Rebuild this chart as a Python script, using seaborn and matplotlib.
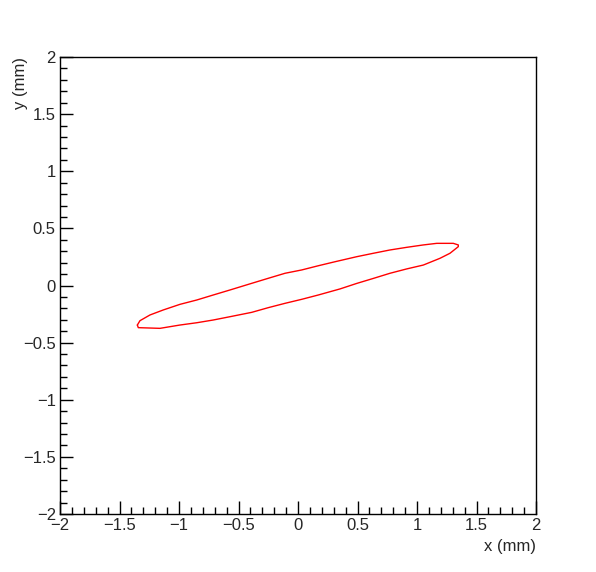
import numpy as np
import matplotlib
matplotlib.use("Agg")
import matplotlib.pyplot as plt
import seaborn as sns
from matplotlib.ticker import MultipleLocator

# contour points (mm), going round the ellipse
x_mm = [-1.350, -1.328, -1.244, -1.132, -0.992, -0.851, -0.712, -0.571, -0.389,
        -0.250, -0.109, 0.031, 0.171, 0.311, 0.493, 0.633, 0.773, 0.913, 1.053,
        1.166, 1.305, 1.347,
        1.347, 1.277, 1.193, 1.053, 0.913, 0.773, 0.633, 0.493, 0.353,
        0.171, 0.031, -0.109, -0.250, -0.389, -0.571, -0.712, -0.851, -0.992,
        -1.160, -1.342, -1.350]
y_mm = [-0.346, -0.308, -0.258, -0.214, -0.165, -0.127, -0.083, -0.039, 0.019,
        0.063, 0.107, 0.136, 0.173, 0.208, 0.252, 0.282, 0.311, 0.334, 0.355,
        0.369, 0.369, 0.355,
        0.340, 0.282, 0.238, 0.179, 0.145, 0.107, 0.062, 0.018, -0.030,
        -0.083, -0.121, -0.156, -0.194, -0.235, -0.273, -0.302, -0.326, -0.346,
        -0.375, -0.369, -0.346]

sns.set_style("white")
plt.rcParams['font.family'] = ['Liberation Sans', 'DejaVu Sans']
plt.rcParams['axes.unicode_minus'] = True

fig = plt.figure(figsize=(5.96, 5.72), dpi=100)
ax = fig.add_axes([60 / 596, 1 - 514 / 572, 476 / 596, 457 / 572])

sns.lineplot(x=x_mm, y=y_mm, sort=False, estimator=None, color="red",
             linewidth=1.0, ax=ax)

ax.set_xlim(-2, 2)
ax.set_ylim(-2, 2)
ax.xaxis.set_major_locator(MultipleLocator(0.5))
ax.xaxis.set_minor_locator(MultipleLocator(0.1))
ax.yaxis.set_major_locator(MultipleLocator(0.5))
ax.yaxis.set_minor_locator(MultipleLocator(0.1))
fmt = plt.FuncFormatter(lambda v, p: f"{v:g}".replace("-", "\u2212"))
ax.xaxis.set_major_formatter(fmt)
ax.yaxis.set_major_formatter(fmt)

ax.tick_params(which="both", direction="in", bottom=True, left=True,
               top=False, right=False, labelsize=12, color="black", width=1)
ax.tick_params(which="major", length=9.4, pad=3)
ax.tick_params(which="minor", length=5)
for s in ax.spines.values():
    s.set_color("black")
    s.set_linewidth(1)

ax.set_xlabel("x (mm)", fontsize=12, loc="right")
ax.set_ylabel("y (mm)", fontsize=12, loc="top")
ax.xaxis.set_label_coords(1.0, -0.055)
ax.yaxis.set_label_coords(-0.067, 1.0)

fig.savefig("out.png", dpi=100)
